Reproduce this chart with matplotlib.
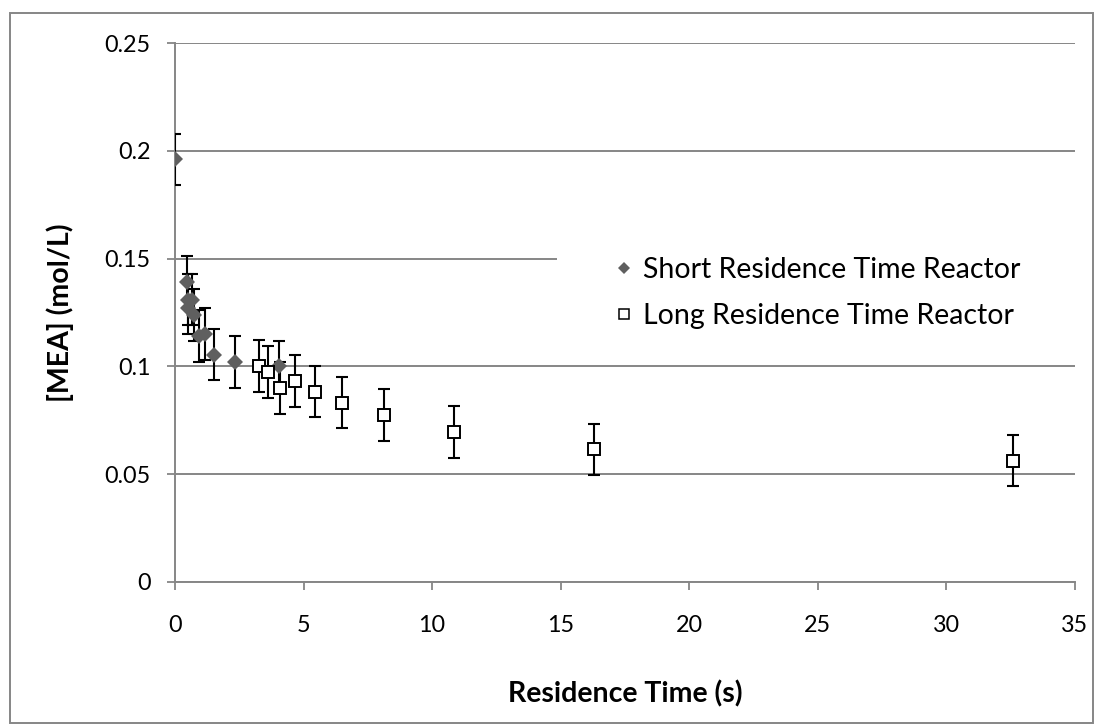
import matplotlib
matplotlib.use("Agg")
import matplotlib.pyplot as plt
from matplotlib.lines import Line2D
from matplotlib.patches import Rectangle

plt.rcParams['font.family'] = ['Lato', 'DejaVu Sans']

# Short residence time reactor
short_t = [0.0, 0.45, 0.52, 0.65, 0.52, 0.72, 0.95, 1.17, 1.53, 2.33, 4.06]
short_mea = [0.196, 0.139, 0.131, 0.131, 0.127, 0.124, 0.114, 0.115, 0.1055, 0.102, 0.100]
short_err = [0.012] * len(short_t)

# Long residence time reactor
long_t = [3.26, 3.62, 4.07, 4.65, 5.43, 6.51, 8.14, 10.85, 16.28, 32.57]
long_mea = [0.1003, 0.0973, 0.0901, 0.0934, 0.0883, 0.0832, 0.0775, 0.0695, 0.0615, 0.0563]
long_err = [0.012] * len(long_t)

x_ticks = [0, 5, 10, 15, 20, 25, 30, 35]
y_ticks = [0, 0.05, 0.1, 0.15, 0.2, 0.25]
y_tick_labels = ['0', '0.05', '0.1', '0.15', '0.2', '0.25']

series_names = ['Short Residence Time Reactor', 'Long Residence Time Reactor']

W, H = 1104, 725
fig = plt.figure(figsize=(W / 100, H / 100), dpi=100)
ax = fig.add_axes([175 / W, 1 - 582 / H, 900 / W, 539 / H])

grey = '#868686'
diamond_col = '#5f5f5f'

# outer chart border
fig.patches.append(Rectangle((10 / W, 1 - 723 / H), 1083 / W, 710 / H,
                             transform=fig.transFigure, fill=False,
                             edgecolor=grey, linewidth=1.4))

ax.set_xlim(0, 35)
ax.set_ylim(0, 0.25)
ax.set_xticks(x_ticks)
ax.set_yticks(y_ticks)
ax.set_yticklabels(y_tick_labels)
ax.tick_params(axis='both', direction='out', length=5.5, width=1.3, color=grey,
               labelsize=16.8, pad=12)
ax.tick_params(axis='x', pad=18.5)

for s in ['top', 'right']:
    ax.spines[s].set_visible(False)
for s in ['left', 'bottom']:
    ax.spines[s].set_color(grey)
    ax.spines[s].set_linewidth(1.4)

ax.set_axisbelow(True)
ax.yaxis.grid(True, color=grey, linewidth=1.4)
ax.xaxis.grid(False)

# blank area behind the legend
ax.add_patch(Rectangle((0.4244, 0.449), 0.58, 0.26, transform=ax.transAxes,
                       facecolor='white', edgecolor='none', zorder=1))


def draw_series(t, v, err, **style):
    line, caps, bars = ax.errorbar(t, v, yerr=err, ecolor='black', elinewidth=1.5,
                                   capsize=4.2, capthick=1.5, zorder=3, **style)
    for cap in caps:
        cap.set_marker('_')
        cap.set_markersize(8.4)
        cap.set_markeredgewidth(1.5)
        cap.set_markeredgecolor('black')
        cap.set_color('black')
    return line


draw_series(short_t, short_mea, short_err, fmt='D', color=diamond_col,
            markersize=8.3, markeredgewidth=0)
draw_series(long_t, long_mea, long_err, fmt='s', markerfacecolor='white',
            markeredgecolor='black', markeredgewidth=1.4, markersize=8.4)

handles = [
    Line2D([], [], linestyle='none', marker='D', color=diamond_col,
           markersize=6.3, markeredgewidth=0),
    Line2D([], [], linestyle='none', marker='s', markerfacecolor='white',
           markeredgecolor='black', markeredgewidth=1.1, markersize=6.8),
]
leg = ax.legend(handles, series_names, loc='center left',
                bbox_to_anchor=((611.5 - 175) / 900, (582 - 293) / 539),
                frameon=False, fontsize=20.5, handlelength=0.9,
                handletextpad=0.22, borderpad=0, borderaxespad=0,
                labelspacing=0.68)

ax.set_xlabel('Residence Time (s)', fontsize=20.5, fontweight='bold', labelpad=32)
ax.set_ylabel('[MEA] (mol/L)', fontsize=20.5, fontweight='bold', labelpad=22)

fig.savefig('out.png', dpi=100)
